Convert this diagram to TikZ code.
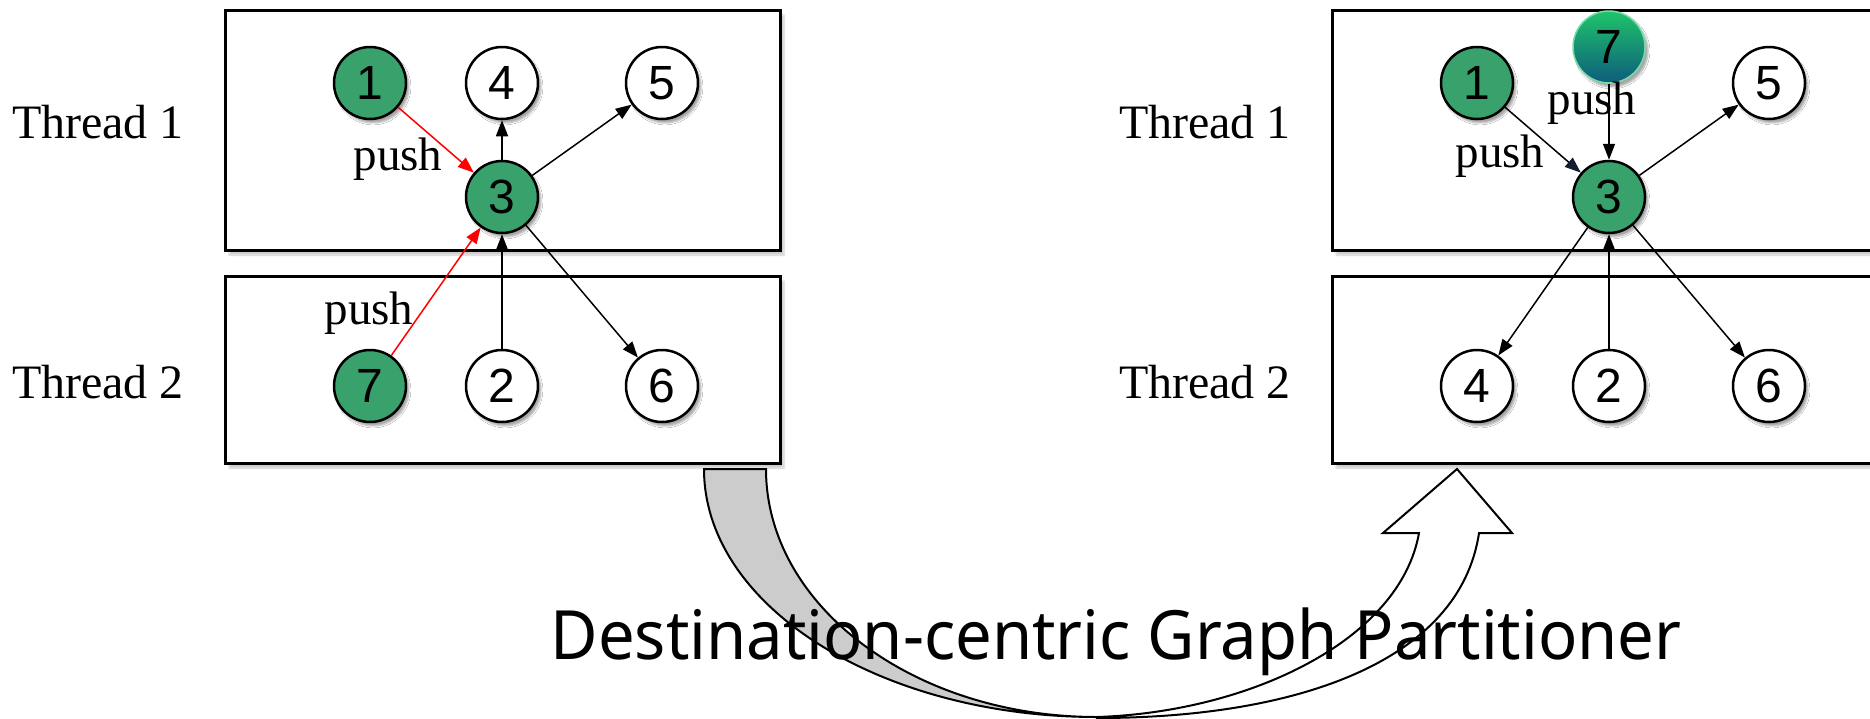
\documentclass[tikz,border=0pt]{standalone}
\usepackage{fontspec}
\usepackage{graphicx}
\setmainfont{Liberation Serif}
\newfontfamily\digitfont{Liberation Sans}
\newfontfamily\titlefont{Noto Sans}
\usetikzlibrary{arrows.meta,shadows.blur}
\definecolor{nodegreen}{RGB}{56,161,108}
\definecolor{sevtop}{RGB}{30,196,106}
\definecolor{sevbot}{RGB}{14,92,124}
\definecolor{bandgray}{RGB}{204,204,204}
\definecolor{headnavy}{RGB}{20,28,52}

\begin{document}
\begin{tikzpicture}[x=1pt,y=-1pt,
  panel/.style={draw,line width=3pt,fill=white,inner sep=0pt,
    blur shadow={shadow xshift=4pt,shadow yshift=-5pt,shadow blur steps=6,shadow opacity=20}},
  vtx/.style={circle,draw,line width=2.5pt,minimum size=72pt,inner sep=0pt,
    font=\digitfont\fontsize{48}{48}\selectfont,
    blur shadow={shadow xshift=3pt,shadow yshift=-4pt,shadow blur steps=5,shadow opacity=35}},
  hot/.style={vtx,fill=nodegreen},
  cold/.style={vtx,fill=white},
  moved/.style={vtx,draw=sevtop!60!white,line width=1.5pt,top color=sevtop,bottom color=sevbot},
  lbl/.style={inner sep=0pt,anchor=base,font=\fontsize{47}{47}\selectfont},
  rowlbl/.style={lbl,font=\fontsize{48}{48}\selectfont},
  edge/.style={line width=1.5pt,-{Triangle[length=16pt,width=12pt]}},
  navyedge/.style={line width=1.5pt,-{Triangle[length=16pt,width=12pt,color=headnavy]}}
]
\useasboundingbox (0,0) rectangle (1870,718);

% thread partitions
\node[panel,minimum width=555pt,minimum height=240pt] (L1) at (502.5,130) {};
\node[panel,minimum width=555pt,minimum height=187pt] (L2) at (502.5,369.5) {};
\node[panel,minimum width=555pt,minimum height=240pt] (R1) at (1609.5,130) {};
\node[panel,minimum width=555pt,minimum height=187pt] (R2) at (1609.5,369.5) {};

% curved transfer arrow
\filldraw[fill=bandgray,draw=black,line width=2pt]
  (704,469) .. controls (704,606) and (880,717) .. (1097,717)
  .. controls (914,717) and (766,606) .. (766,469) -- cycle;
\filldraw[fill=white,draw=black,line width=2pt]
  (1097,718) .. controls (1300,718) and (1460,660) .. (1479,533)
  -- (1512,533) -- (1457,469) -- (1383,533) -- (1419,533)
  .. controls (1400,640) and (1250,712) .. (1097,717) -- cycle;

\node[inner sep=0pt,anchor=base] (title) at (1116,659)
  {\resizebox{1131pt}{\height}{\titlefont\fontsize{68}{68}\selectfont Destination-centric Graph Partitioner}};

% row labels
\node[rowlbl] (lt1) at (98,138)   {Thread 1};
\node[rowlbl] (lt2) at (98,398)   {Thread 2};
\node[rowlbl] (rt1) at (1205,138) {Thread 1};
\node[rowlbl] (rt2) at (1205,398) {Thread 2};

% left graph: source-centric
\node[hot]  (a1) at (370,83)  {1};
\node[cold] (a4) at (502,83)  {4};
\node[cold] (a5) at (662,83)  {5};
\node[hot]  (a3) at (502,197) {3};
\node[hot]  (a7) at (370,386) {7};
\node[cold] (a2) at (502,386) {2};
\node[cold] (a6) at (662,386) {6};

\draw[edge,red] (a1) -- (a3);
\draw[edge,red] (a7) -- (a3);
\draw[edge] (a3) -- (a4);
\draw[edge] (a3) -- (a5);
\draw[edge] (a3) -- (a6);
\draw[edge] (a2) -- (a3);

\node[lbl] (pa1) at (398,170) {push};
\node[lbl] (pa2) at (369,324) {push};

% right graph: destination-centric
\node[hot]   (b1) at (1477,83)  {1};
\node[moved] (b7) at (1609,47)  {7};
\node[cold]  (b5) at (1769,83)  {5};
\node[hot]   (b3) at (1609,197) {3};
\node[cold]  (b4) at (1477,386) {4};
\node[cold]  (b2) at (1609,386) {2};
\node[cold]  (b6) at (1769,386) {6};

\draw[navyedge] (b1) -- (b3);
\draw[edge] (b7) -- (b3);
\draw[edge] (b3) -- (b5);
\draw[edge] (b3) -- (b4);
\draw[edge] (b3) -- (b6);
\draw[edge] (b2) -- (b3);

\node[lbl] (pb1) at (1500,167) {push};
\node[lbl] (pb2) at (1592,114) {push};
\end{tikzpicture}
\end{document}
